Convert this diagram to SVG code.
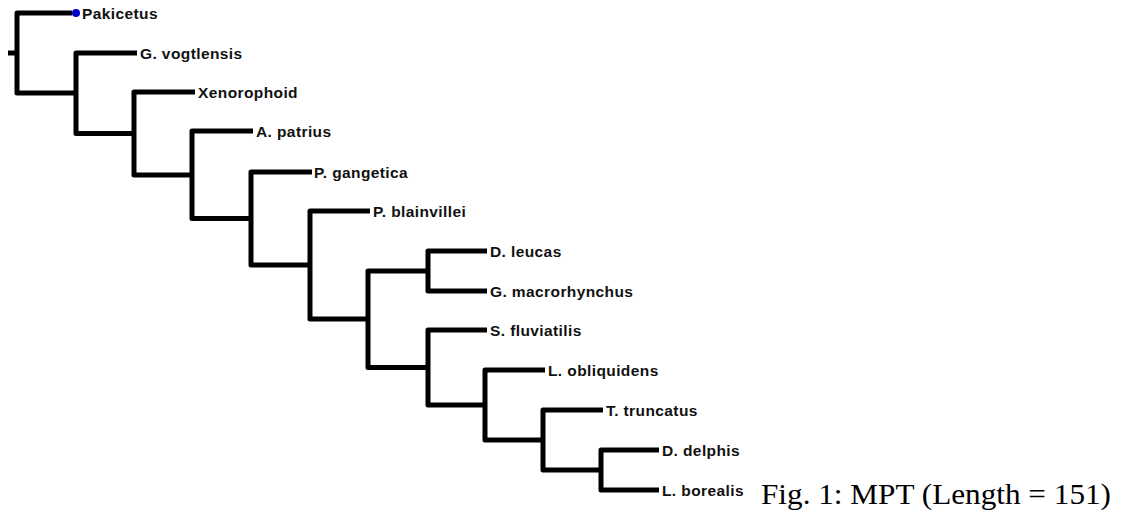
<svg xmlns="http://www.w3.org/2000/svg" width="1123" height="510" viewBox="0 0 1123 510">
<style>
.br{fill:none;stroke:#000;stroke-width:5;stroke-linejoin:round;stroke-linecap:butt}
.lb{font-family:"Liberation Sans",Arial,sans-serif;font-weight:bold;font-size:15.5px;letter-spacing:0.4px;fill:#111}
.cap{font-family:"Liberation Serif","Times New Roman",serif;font-size:30px;fill:#000}
</style>
<rect width="1123" height="510" fill="#fff"/>
<g id="connectors">
<path class="br" d="M8 53 H17"/>
<path class="br" d="M72 13 H17 V93 H76"/>
<path class="br" d="M137 53 H76 V133.5 H134"/>
<path class="br" d="M195 92 H134 V175 H192"/>
<path class="br" d="M253 131 H192 V218.5 H251"/>
<path class="br" d="M312 172 H251 V265 H310"/>
<path class="br" d="M370 211 H310 V319 H368"/>
<path class="br" d="M428 271 H368 V367.5 H428"/>
<path class="br" d="M487 251 H428 V291 H487"/>
<path class="br" d="M487 330 H428 V405 H485"/>
<path class="br" d="M545 370 H485 V440 H543"/>
<path class="br" d="M603 410 H543 V470 H601"/>
<path class="br" d="M659 450 H601 V490 H659"/>
</g>
<g id="pakicetus"><circle cx="76" cy="13" r="4" fill="#0000cc"/><text class="lb" x="82" y="18.5">Pakicetus</text></g>
<g id="g-vogtlensis"><text class="lb" x="140" y="58.5">G. vogtlensis</text></g>
<g id="xenorophoid"><text class="lb" x="198" y="97.5">Xenorophoid</text></g>
<g id="a-patrius"><text class="lb" x="256" y="136.5">A. patrius</text></g>
<g id="p-gangetica"><text class="lb" x="314" y="177.5">P. gangetica</text></g>
<g id="p-blainvillei"><text class="lb" x="373" y="216.5">P. blainvillei</text></g>
<g id="d-leucas"><text class="lb" x="490" y="256.5">D. leucas</text></g>
<g id="g-macrorhynchus"><text class="lb" x="490" y="296.5">G. macrorhynchus</text></g>
<g id="s-fluviatilis"><text class="lb" x="490" y="335.5">S. fluviatilis</text></g>
<g id="l-obliquidens"><text class="lb" x="548" y="375.5">L. obliquidens</text></g>
<g id="t-truncatus"><text class="lb" x="606" y="415.5">T. truncatus</text></g>
<g id="d-delphis"><text class="lb" x="662" y="455.5">D. delphis</text></g>
<g id="l-borealis"><text class="lb" x="662" y="495.5">L. borealis</text></g>
<text class="cap" x="761" y="504" textLength="350" lengthAdjust="spacingAndGlyphs">Fig. 1: MPT (Length = 151)</text>
</svg>
